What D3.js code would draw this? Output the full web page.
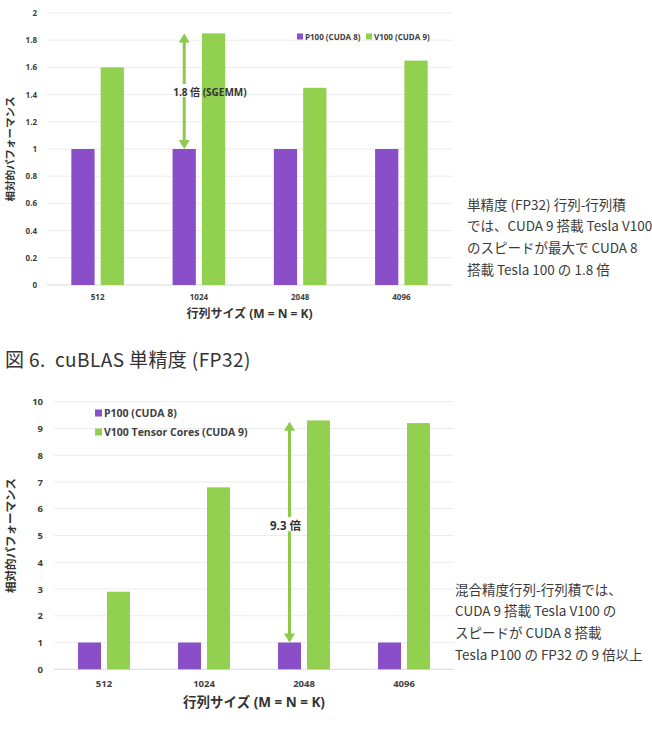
<!DOCTYPE html>
<html lang="ja">
  <head>
    <meta charset="UTF-8" />
    <title>cuBLAS 性能比較</title>
    <style>
      html,
      body {
        margin: 0;
        background: #fff;
      }
      svg text {
        font-family: "Open Sans", "Noto Sans CJK JP", sans-serif;
      }
      .note,
      .caption {
        font-family: "Noto Sans CJK JP", "Noto Sans", sans-serif !important;
      }
    </style>
    <script src="https://cdn.jsdelivr.net/npm/d3@7"></script>
  </head>
  <body>
    <svg id="stage" width="652" height="735"></svg>

    <script>
      // データ
      const sizes = ["512", "1024", "2048", "4096"];
      const seriesKeys = ["p100", "v100"];

      const fp32P100 = [1, 1, 1, 1];
      const fp32V100 = [1.6, 1.85, 1.45, 1.65];
      const fp32Ticks = [0, 0.2, 0.4, 0.6, 0.8, 1, 1.2, 1.4, 1.6, 1.8, 2];
      const fp32Legend = ["P100 (CUDA 8)", "V100 (CUDA 9)"];

      const mixedP100 = [1, 1, 1, 1];
      const mixedV100 = [2.9, 6.8, 9.3, 9.2];
      const mixedTicks = [0, 1, 2, 3, 4, 5, 6, 7, 8, 9, 10];
      const mixedLegend = ["P100 (CUDA 8)", "V100 Tensor Cores (CUDA 9)"];

      const fp32Note = [
        "単精度 (FP32) 行列-行列積",
        "では、CUDA 9 搭載 Tesla V100",
        "のスピードが最大で CUDA 8",
        "搭載 Tesla 100 の 1.8 倍",
      ];
      const mixedNote = [
        "混合精度行列-行列積では、",
        "CUDA 9 搭載 Tesla V100 の",
        "スピードが CUDA 8 搭載",
        "Tesla P100 の FP32 の 9 倍以上",
      ];

      const colors = { p100: "#8a4fc8", v100: "#92d050" };
      const arrowColor = "#8cc94c";
      const textColor = "#404040";

      const svg = d3.select("#stage");
      svg.append("rect").attr("width", 652).attr("height", 735).attr("fill", "#fff");

      function drawChart(opt) {
        const g = svg.append("g");
        const rows = sizes.map((s, i) => ({ size: s, p100: opt.p100[i], v100: opt.v100[i] }));

        const x0 = d3.scaleBand().domain(sizes).range([opt.left, opt.right]);
        const x1 = d3
          .scaleBand()
          .domain(seriesKeys)
          .range([0, x0.bandwidth()])
          .paddingInner(0.207)
          .paddingOuter(0.83);
        const y = d3
          .scaleLinear()
          .domain([0, opt.max])
          .range([opt.bottom, opt.top]);

        // グリッド
        g.selectAll(".grid")
          .data(opt.ticks)
          .join("line")
          .attr("x1", opt.left)
          .attr("x2", opt.gridEnd)
          .attr("y1", (d) => y(d))
          .attr("y2", (d) => y(d))
          .attr("stroke", (d) => (d === 0 ? "#d9d9d9" : "#ececec"))
          .attr("stroke-width", 1);

        // Y軸
        const yAxis = d3
          .axisLeft(y)
          .tickValues(opt.ticks)
          .tickFormat(d3.format(""))
          .tickSize(0)
          .tickPadding(opt.tickPad);
        g.append("g")
          .attr("transform", `translate(${opt.left},0)`)
          .call(yAxis)
          .call((a) => a.select(".domain").remove())
          .selectAll("text")
          .attr("font-size", opt.tickFont)
          .attr("font-weight", 700)
          .attr("fill", textColor);

        // X軸
        const xAxis = d3.axisBottom(x0).tickSize(0).tickPadding(opt.xPad);
        g.append("g")
          .attr("transform", `translate(0,${opt.bottom})`)
          .call(xAxis)
          .call((a) => a.select(".domain").remove())
          .selectAll("text")
          .attr("font-size", opt.tickFont)
          .attr("font-weight", 700)
          .attr("fill", textColor);

        // 棒
        g.selectAll(".grp")
          .data(rows)
          .join("g")
          .attr("transform", (d) => `translate(${x0(d.size)},0)`)
          .selectAll("rect")
          .data((d) => seriesKeys.map((k) => ({ key: k, value: d[k] })))
          .join("rect")
          .attr("x", (d) => x1(d.key))
          .attr("width", x1.bandwidth())
          .attr("y", (d) => y(d.value))
          .attr("height", (d) => y(0) - y(d.value))
          .attr("fill", (d) => colors[d.key]);

        // 軸タイトル
        g.append("text")
          .attr("x", (opt.left + opt.right) / 2)
          .attr("y", opt.xTitleY)
          .attr("text-anchor", "middle")
          .attr("font-size", opt.titleFont)
          .attr("font-weight", 700)
          .attr("fill", "#333")
          .text("行列サイズ (M = N = K)");
        g.append("text")
          .attr("transform", `translate(${opt.yTitleX},${(opt.top + opt.bottom) / 2}) rotate(-90)`)
          .attr("text-anchor", "middle")
          .attr("font-size", opt.yTitleFont)
          .attr("font-weight", 700)
          .attr("fill", "#333")
          .text("相対的パフォーマンス");

        // 凡例
        const leg = g
          .selectAll(".leg")
          .data(opt.legend)
          .join("g")
          .attr("transform", (d, i) => `translate(${opt.legendPos[i][0]},${opt.legendPos[i][1]})`);
        leg.append("rect")
          .attr("x", 0)
          .attr("y", -opt.legendBox + 0.5)
          .attr("width", opt.legendBox)
          .attr("height", opt.legendBox)
          .attr("fill", (d, i) => colors[seriesKeys[i]]);
        leg.append("text")
          .attr("x", opt.legendBox + 2)
          .attr("y", 0)
          .attr("dy", "0.1em")
          .attr("font-size", opt.legendFont)
          .attr("font-weight", 700)
          .attr("fill", textColor)
          .text((d) => d);

        // 矢印（P100 の棒の中心）
        const ax = x0(sizes[opt.arrowAt]) + x1("p100") + x1.bandwidth() / 2;
        const yTop = y(opt.arrowFrom);
        const yBot = y(opt.arrowTo);
        const head = 8;
        g.append("line")
          .attr("x1", ax)
          .attr("x2", ax)
          .attr("y1", yTop + head)
          .attr("y2", opt.labelY - opt.labelGap)
          .attr("stroke", arrowColor)
          .attr("stroke-width", 3);
        g.append("line")
          .attr("x1", ax)
          .attr("x2", ax)
          .attr("y1", opt.labelY + opt.labelGap * 0.6)
          .attr("y2", yBot - head)
          .attr("stroke", arrowColor)
          .attr("stroke-width", 3);
        g.append("path")
          .attr("d", `M${ax},${yTop} L${ax - 5.5},${yTop + head + 1} L${ax + 5.5},${yTop + head + 1} Z`)
          .attr("fill", arrowColor);
        g.append("path")
          .attr("d", `M${ax},${yBot} L${ax - 5.5},${yBot - head - 1} L${ax + 5.5},${yBot - head - 1} Z`)
          .attr("fill", arrowColor);
        g.append("text")
          .attr("x", ax + opt.labelDx)
          .attr("y", opt.labelY)
          .attr("dy", "0.35em")
          .attr("text-anchor", opt.labelAnchor)
          .attr("font-size", opt.labelFont)
          .attr("font-weight", 700)
          .attr("fill", "#333")
          .text(opt.label);

        // 説明文
        svg.selectAll(null)
          .data(opt.note)
          .join("text")
          .attr("class", "note")
          .attr("x", opt.noteX)
          .attr("y", (d, i) => opt.noteY + i * 21.6)
          .attr("dy", "0.36em")
          .attr("font-size", 13.5)
          .attr("fill", "#3a3a3a")
          .text((d) => d);
      }

      drawChart({
        p100: fp32P100,
        v100: fp32V100,
        ticks: fp32Ticks,
        max: 2,
        left: 47,
        right: 452,
        gridEnd: 452,
        top: 13,
        bottom: 285,
        tickFont: 8,
        tickPad: 10,
        xPad: 9,
        titleFont: 12,
        yTitleFont: 10.5,
        xTitleY: 318,
        yTitleX: 14,
        legend: fp32Legend,
        legendPos: [
          [297, 39],
          [366, 39],
        ],
        legendBox: 6,
        legendFont: 8,
        arrowAt: 1,
        arrowFrom: 1.85,
        arrowTo: 1,
        label: "1.8 倍 (SGEMM)",
        labelY: 92,
        labelGap: 8,
        labelDx: -11,
        labelAnchor: "start",
        labelFont: 10,
        note: fp32Note,
        noteX: 467,
        noteY: 205,
      });

      drawChart({
        p100: mixedP100,
        v100: mixedV100,
        ticks: mixedTicks,
        max: 10,
        left: 54,
        right: 454,
        gridEnd: 454,
        top: 401.7,
        bottom: 669.3,
        tickFont: 9.5,
        tickPad: 11,
        xPad: 11,
        titleFont: 13.5,
        yTitleFont: 11.5,
        xTitleY: 707,
        yTitleX: 15,
        legend: mixedLegend,
        legendPos: [
          [95, 416],
          [95, 435],
        ],
        legendBox: 7,
        legendFont: 10.5,
        arrowAt: 2,
        arrowFrom: 9.25,
        arrowTo: 1,
        label: "9.3 倍",
        labelY: 526,
        labelGap: 9,
        labelDx: -4,
        labelAnchor: "middle",
        labelFont: 11.5,
        note: mixedNote,
        noteX: 455,
        noteY: 590,
      });

      // 図番号
      svg.append("text")
        .attr("class", "caption")
        .attr("x", 5)
        .attr("y", 367)
        .attr("font-size", 19)
        .attr("letter-spacing", 0.4)
        .attr("fill", "#333")
        .attr("xml:space", "preserve")
        .text("図 6.  cuBLAS 単精度 (FP32)");
    </script>
  </body>
</html>
